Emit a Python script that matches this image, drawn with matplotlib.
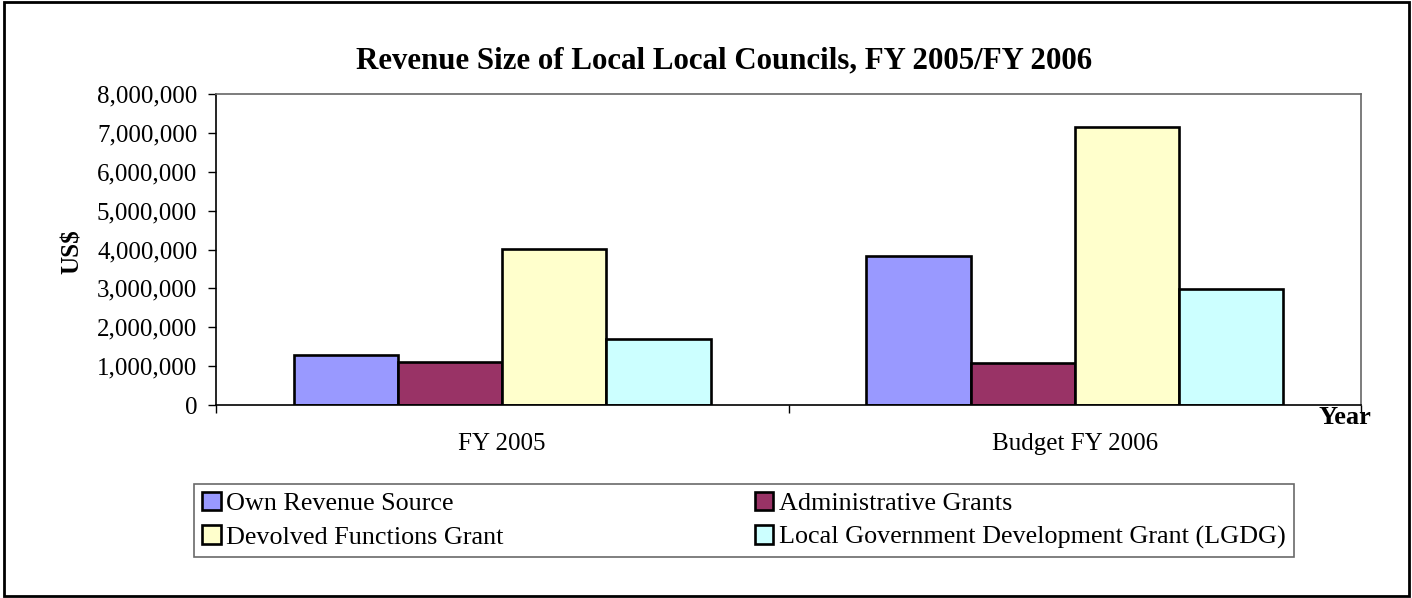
import numpy as np
import matplotlib
matplotlib.use('Agg')
import matplotlib.pyplot as plt
from matplotlib.patches import Rectangle
from matplotlib.ticker import FuncFormatter, FixedLocator

plt.rcParams['font.family'] = ['Liberation Serif', 'DejaVu Serif']

categories = ['FY 2005', 'Budget FY 2006']
series = ['Own Revenue Source', 'Administrative Grants',
          'Devolved Functions Grant', 'Local Government Development Grant (LGDG)']
own_revenue = [1280000, 3840000]
admin_grants = [1100000, 1090000]
devolved_grant = [4020000, 7150000]
lgdg = [1700000, 2980000]
colors = ['#9999FF', '#993366', '#FFFFCC', '#CCFFFF']

W, H = 1412, 598
fig = plt.figure(figsize=(W / 100, H / 100), dpi=100)
ax = fig.add_axes([216 / W, 1 - 405 / H, (1361 - 216) / W, (405 - 94) / H])

x = np.arange(len(categories))
bw = 0.182
values = [own_revenue, admin_grants, devolved_grant, lgdg]
handles = []
for i, (vals, c, name) in enumerate(zip(values, colors, series)):
    b = ax.bar(x + (i - 1.5) * bw, vals, width=bw, color=c, edgecolor='black',
               linewidth=1.9, label=name)
    handles.append(b)

ax.set_xlim(-0.5, 1.5)
ax.set_ylim(0, 8000000)
ax.yaxis.set_major_locator(FixedLocator(np.arange(0, 8000001, 1000000)))
ax.yaxis.set_major_formatter(FuncFormatter(lambda v, p: f'{int(v):,}'))
ax.tick_params(axis='y', direction='out', length=5.5, width=1, pad=8, labelsize=18)

# category boundaries as major ticks, labels on minor ticks
ax.xaxis.set_major_locator(FixedLocator([-0.5, 0.5, 1.5]))
ax.xaxis.set_major_formatter(FuncFormatter(lambda v, p: ''))
ax.xaxis.set_minor_locator(FixedLocator(x))
ax.set_xticklabels(categories, minor=True)
ax.tick_params(axis='x', which='major', direction='out', length=5.5, width=1)
ax.tick_params(axis='x', which='minor', length=0, pad=20, labelsize=18)

for s in ['left', 'bottom']:
    ax.spines[s].set_color('black')
    ax.spines[s].set_linewidth(1.2)
for s in ['top', 'right']:
    ax.spines[s].set_color('#666666')
    ax.spines[s].set_linewidth(1.2)

fig.text(724 / W, 1 - 61 / H, 'Revenue Size of Local Local Councils, FY 2005/FY 2006',
         ha='center', va='center', fontsize=22.2, fontweight='bold')
fig.text(72 / W, 1 - 252 / H, 'US$', ha='center', va='center', rotation=90,
         fontsize=18, fontweight='bold')
fig.text(1371 / W, 1 - 424 / H, 'Year', ha='right', va='baseline',
         fontsize=19, fontweight='bold')

# legend fills column by column, so reorder to read row by row
order = [0, 2, 1, 3]
leg = fig.legend(handles=[handles[k] for k in order], labels=[series[k] for k in order],
                 ncol=2, bbox_to_anchor=(194 / W, 1 - 484 / H), loc='upper left',
                 fontsize=18.8, frameon=True, fancybox=False,
                 edgecolor='#444444', handlelength=0.72, handleheight=0.72,
                 handletextpad=0.22, borderpad=0.3, labelspacing=0.38,
                 borderaxespad=0, columnspacing=9.6)
leg.get_frame().set_linewidth(1.2)
for h in leg.legend_handles:
    h.set_linewidth(1.9)

fig.patches.append(Rectangle((4 / W, 2 / H), (1409 - 4) / W, (596 - 2) / H,
                             transform=fig.transFigure, fill=False,
                             edgecolor='black', linewidth=2))

fig.savefig('out.png', dpi=100)
